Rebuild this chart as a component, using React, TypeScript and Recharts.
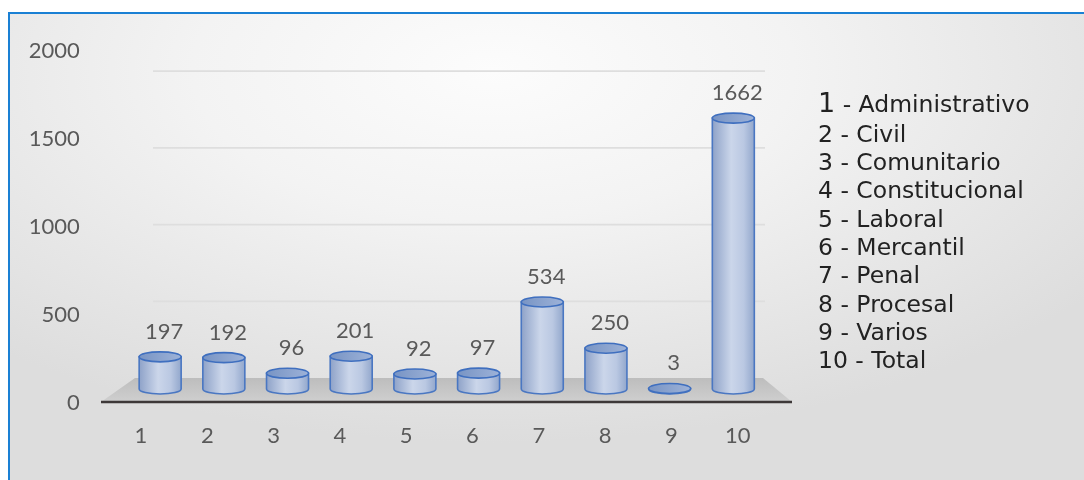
import React from 'react';
import { ComposedChart, Bar, Line, XAxis, YAxis, CartesianGrid, LabelList } from 'recharts';

const categories = ['1', '2', '3', '4', '5', '6', '7', '8', '9', '10'];
const values = [197, 192, 96, 201, 92, 97, 534, 250, 3, 1662];
const legendNames = [
  'Administrativo',
  'Civil',
  'Comunitario',
  'Constitucional',
  'Laboral',
  'Mercantil',
  'Penal',
  'Procesal',
  'Varios',
  'Total',
];
const yTicks = [0, 500, 1000, 1500, 2000];
const backWallTicks = [500, 1000, 1500, 2000];

const data = categories.map((c, i) => ({ cat: c, value: values[i] }));

const FONT = 'Lato, "Open Sans", sans-serif';
const TEXT = '#595959';

function Cylinder(props: any) {
  const { x, y, width, height } = props;
  const rx = width / 2;
  const ry = 5;
  const cx = x + rx;
  const bottom = y + height;
  return (
    <g>
      <path
        d={`M${x},${y} L${x},${bottom} A${rx},${ry} 0 0 0 ${x + width},${bottom} L${x + width},${y} Z`}
        fill="url(#cylBody)"
        stroke="#4a77c2"
        strokeWidth={1.6}
      />
      <ellipse cx={cx} cy={y} rx={rx} ry={ry} fill="url(#cylTop)" stroke="#3f6fbf" strokeWidth={1.6} />
    </g>
  );
}

function ValueLabel(props: any) {
  const { x, y, width, value } = props;
  return (
    <text
      x={x + width / 2 + 4}
      y={y - 18}
      textAnchor="middle"
      fontFamily={FONT}
      fontSize={22}
      fill={TEXT}
    >
      {value}
    </text>
  );
}

export default function App() {
  return (
    <div
      style={{
        position: 'fixed',
        left: 8,
        top: 12,
        width: 1076,
        height: 468,
        boxSizing: 'border-box',
        borderTop: '2px solid #1a80d4',
        borderLeft: '2px solid #1a80d4',
        background:
          'radial-gradient(ellipse 70% 80% at 45% 12%, #fcfcfc 0%, #f3f3f3 40%, #e6e6e6 75%, #dddddd 100%)',
        overflow: 'hidden',
      }}
    >
      <div style={{ position: 'absolute', left: -10, top: -14, width: 1084, height: 480 }}>
        <svg style={{ position: 'absolute', left: 0, top: 0 }} width={1084} height={480}>
          <defs>
            <linearGradient id="floorGrad" x1="0" y1="0" x2="0" y2="1">
              <stop offset="0%" stopColor="#bdbdbd" />
              <stop offset="100%" stopColor="#cfcfcf" />
            </linearGradient>
          </defs>
          <polygon points="101,402 792,402 763,378 135,378" fill="url(#floorGrad)" />
          <line x1={101} y1={402} x2={792} y2={402} stroke="#3d3838" strokeWidth={2.5} />
          <g fontFamily='"DejaVu Sans", Verdana, sans-serif' fontSize={23.5} fill="#222222">
            {legendNames.map((name, i) =>
              i === 0 ? (
                <text key={name} x={818} y={112}>
                  <tspan fontSize={27}>{categories[i]}</tspan>
                  {` - ${name}`}
                </text>
              ) : (
                <text key={name} x={818} y={141.7 + (i - 1) * 28.34}>
                  {`${categories[i]} - ${name}`}
                </text>
              )
            )}
          </g>
        </svg>
        <div style={{ position: 'absolute', left: 0, top: 0 }}>
          <ComposedChart
            width={1084}
            height={480}
            data={data}
            margin={{ top: 50, right: 313.2, bottom: 38, left: 47.85 }}
          >
            <defs>
              <linearGradient id="cylBody" x1="0" y1="0" x2="1" y2="0">
                <stop offset="0%" stopColor="#8ea2c8" />
                <stop offset="45%" stopColor="#cbd6ea" />
                <stop offset="75%" stopColor="#bac8e2" />
                <stop offset="100%" stopColor="#92a7cc" />
              </linearGradient>
              <linearGradient id="cylTop" x1="0" y1="0" x2="1" y2="0">
                <stop offset="0%" stopColor="#7894c4" />
                <stop offset="100%" stopColor="#9db2d8" />
              </linearGradient>
            </defs>
            <XAxis
              xAxisId="front"
              dataKey="cat"
              axisLine={false}
              tickLine={false}
              tickSize={18}
              tickMargin={7}
              height={40}
              tick={{ fontFamily: FONT, fontSize: 22, fill: TEXT }}
              interval={0}
            />
            <XAxis
              xAxisId="bars"
              dataKey="cat"
              orientation="top"
              hide
              padding={{ left: 20.3, right: 5.8 }}
            />
            <YAxis
              yAxisId="front"
              type="number"
              domain={[0, 2000]}
              ticks={yTicks}
              width={60}
              axisLine={false}
              tickLine={false}
              tickSize={20}
              tickMargin={8}
              tick={{ fontFamily: FONT, fontSize: 22, fill: TEXT }}
            />
            <YAxis
              yAxisId="back"
              type="number"
              orientation="right"
              width={0}
              domain={[-156, 2137]}
              ticks={backWallTicks}
              interval={0}
              tick={{ fill: 'transparent', fontSize: 1 }}
              axisLine={false}
              tickLine={false}
            />
            <YAxis
              yAxisId="bars"
              type="number"
              orientation="right"
              width={0}
              domain={[-80, 2080]}
              tick={false}
              axisLine={false}
              tickLine={false}
            />
            <CartesianGrid
              xAxisId="front"
              yAxisId="back"
              vertical={false}
              stroke="#dedede"
              strokeWidth={1.8}
              x={153}
              width={612}
              syncWithTicks
            />
            <Line
              xAxisId="front"
              yAxisId="front"
              dataKey="value"
              stroke="none"
              dot={false}
              activeDot={false}
              legendType="none"
              isAnimationActive={false}
            />
            <Line
              xAxisId="front"
              yAxisId="back"
              dataKey="value"
              stroke="none"
              dot={false}
              activeDot={false}
              legendType="none"
              isAnimationActive={false}
            />
            <Bar
              dataKey="value"
              xAxisId="bars"
              yAxisId="bars"
              barSize={42}
              shape={<Cylinder />}
              isAnimationActive={false}
            >
              <LabelList dataKey="value" content={<ValueLabel />} />
            </Bar>
          </ComposedChart>
        </div>
      </div>
    </div>
  );
}
